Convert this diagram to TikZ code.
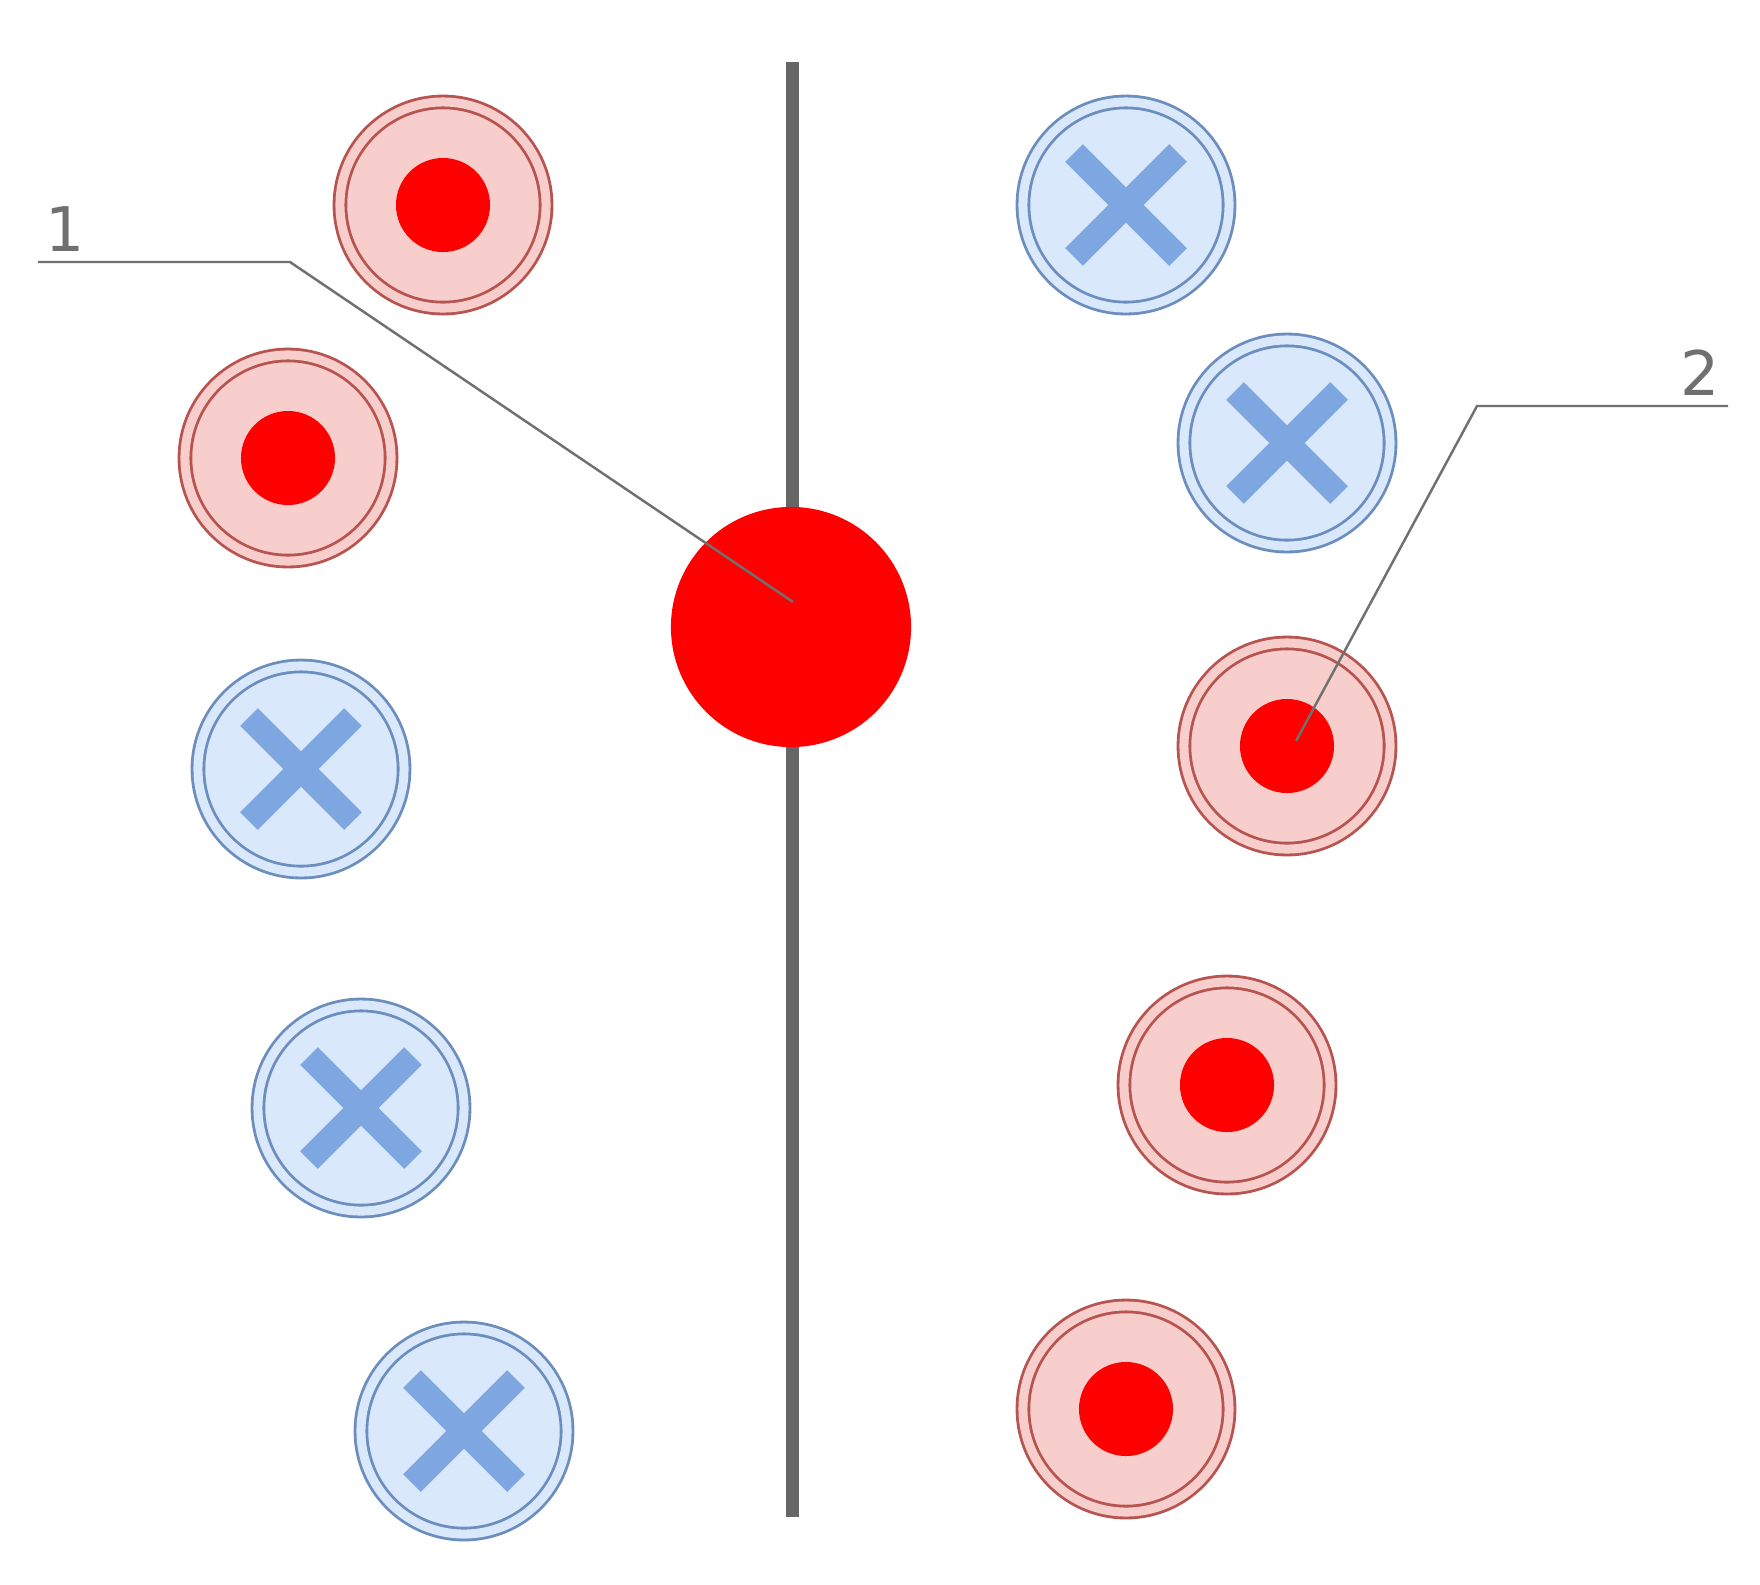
\documentclass[tikz,border=0pt]{standalone}
\usepackage{fontspec}
\setmainfont{DejaVu Sans}
\definecolor{palered}{HTML}{F8CECC}
\definecolor{rimred}{HTML}{B85450}
\definecolor{paleblue}{HTML}{DAE8FC}
\definecolor{rimblue}{HTML}{6C8EBF}
\definecolor{crossblue}{HTML}{7EA6E0}
\definecolor{leadgray}{HTML}{707070}
\tikzset{
  redp/.style={circle, inner sep=0pt, minimum size=2.06cm, fill=palered,
    draw=rimred, line width=0.8pt, double=palered, double distance=0.09cm},
  bluep/.style={circle, inner sep=0pt, minimum size=2.06cm, fill=paleblue,
    draw=rimblue, line width=0.8pt, double=paleblue, double distance=0.09cm},
  xbar/.style={crossblue, line width=0.25cm},
  leader/.style={leadgray, line width=0.7pt},
  num/.style={text=leadgray, font=\fontsize{17.5}{20}\selectfont, inner sep=0pt}
}
\begin{document}
\begin{tikzpicture}[x=0.01cm, y=-0.01cm]
		\useasboundingbox (0,0) rectangle (1760,1584);
		% axis
		\coordinate (top) at (792,62);
		\coordinate (bot) at (792,1517);
		\draw[line width=0.13cm, color=black!60] (top) -- (bot);
		\node[circle, fill=red, inner sep=0pt, minimum size=2.4cm] (big) at (791,627) {};
		% red ones
		\foreach \n/\x/\y in {p1/443/205, p2/288/458, p8/1287/746, p9/1227/1085, p10/1126/1409}{
			\node[redp] (\n) at (\x,\y) {};
			\fill[red] (\n) circle (0.47cm);
		}
		% blue ones
		\foreach \n/\x/\y in {p3/301/769, p4/361/1108, p5/464/1431, p6/1126/205, p7/1287/443}{
			\node[bluep] (\n) at (\x,\y) {};
			\draw[xbar, shift={(\n)}] (-52,-52) -- (52,52) (-52,52) -- (52,-52);
		}
		% labels
		\node[num, anchor=base west] (l1) at (45,251) {1};
		\node[num, anchor=base east] (l2) at (1720,395) {2};
		\coordinate (k1) at (38,262);
		\coordinate (b1) at (290,262);
		\coordinate (e1) at (793,602);
		\coordinate (k2) at (1728,406);
		\coordinate (b2) at (1477,406);
		\coordinate (e2) at (1296,741);
		\draw[leader] (k1) -- (b1) -- (e1);
		\draw[leader] (k2) -- (b2) -- (e2);
	\end{tikzpicture}
\end{document}
